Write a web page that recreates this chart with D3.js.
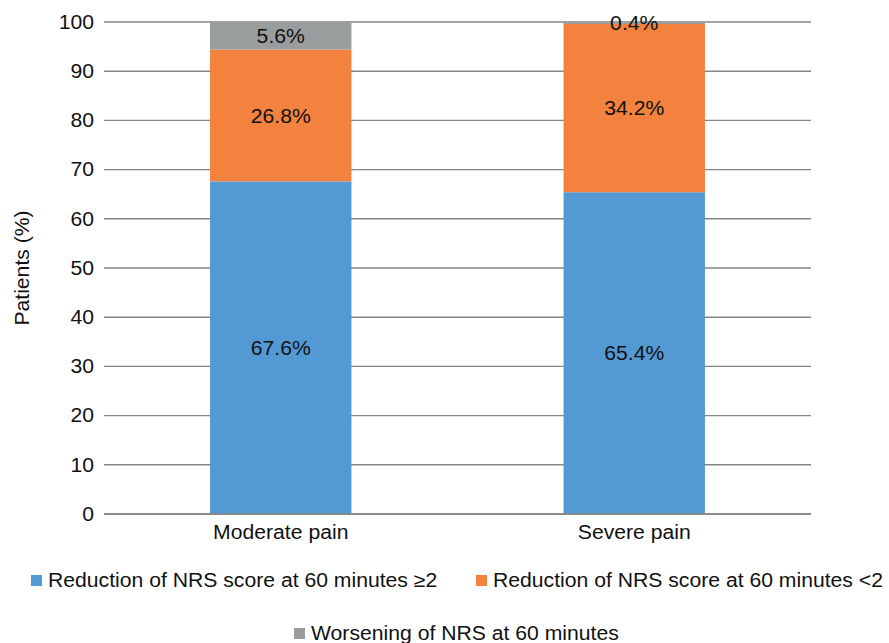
<!DOCTYPE html>
<html><head><meta charset="utf-8">
<script src="https://cdn.jsdelivr.net/npm/d3@7"></script>
<style>body{margin:0;background:#fff;} svg{display:block;font-family:"Liberation Sans",Arial,sans-serif;}</style>
</head><body>
<svg id="c" width="889" height="643"></svg>
<script>
const categories = ["Moderate pain", "Severe pain"];
const seriesNames = ["Reduction of NRS score at 60 minutes ≥2", "Reduction of NRS score at 60 minutes <2", "Worsening of NRS at 60 minutes"];
const reductionGE2 = [67.6, 65.4];
const reductionLT2 = [26.8, 34.2];
const worsening = [5.6, 0.4];
const yTicks = [0,10,20,30,40,50,60,70,80,90,100];
const colors = ["#5399d4", "#f2823e", "#9a9d9d"];

const svg = d3.select("#c");
const m = {left:104, right:811, top:22, bottom:514};
const x = d3.scaleBand().domain(categories).range([m.left, m.right]).paddingInner(0.6).paddingOuter(0.3);
const y = d3.scaleLinear().domain([0,100]).range([m.bottom, m.top]);
const FS = 19.6, STRETCH = 1.08;

const rows = categories.map((c,i)=>({cat:c, s0:reductionGE2[i], s1:reductionLT2[i], s2:worsening[i]}));
const stack = d3.stack().keys(["s0","s1","s2"])(rows);

// gridlines
svg.append("g").selectAll("line").data(yTicks).join("line")
  .attr("x1", m.left).attr("x2", m.right)
  .attr("y1", d=>y(d)).attr("y2", d=>y(d))
  .attr("stroke", "#858585").attr("stroke-width", 1.4);

// y tick labels
const yAxis = d3.axisLeft(y).tickValues(yTicks).tickSize(0).tickPadding(10);
const ga = svg.append("g").attr("transform", `translate(${m.left},0)`).call(yAxis);
ga.select(".domain").remove();
ga.selectAll("text").attr("font-size", FS).attr("font-family", "Liberation Sans, Arial, sans-serif").attr("fill", "#111");

// bars
stack.forEach((layer, k)=>{
  const g = svg.append("g");
  g.selectAll("rect").data(layer).join("rect")
    .attr("x", d=>x(d.data.cat)).attr("width", x.bandwidth())
    .attr("y", d=>y(d[1])).attr("height", d=>y(d[0])-y(d[1]))
    .attr("fill", colors[k]);
});
// labels
stack.forEach((layer,k)=>{
  svg.append("g").selectAll("text").data(layer).join("text")
    .attr("x", d=>x(d.data.cat)+x.bandwidth()/2)
    .attr("y", d=>(y(d[0])+y(d[1]))/2)
    .attr("dy", "0.36em").attr("text-anchor", "middle")
    .attr("font-size", FS).attr("fill", "#111")
    .text(d=>(d[1]-d[0]).toFixed(1)+"%");
});

// baseline
svg.append("line").attr("x1", m.left).attr("x2", m.right).attr("y1", y(0)).attr("y2", y(0))
  .attr("stroke", "#858585").attr("stroke-width", 1.4);

// x labels
const xAxis = d3.axisBottom(x).tickSize(0).tickPadding(11);
const gx = svg.append("g").attr("transform", `translate(0,${m.bottom})`).call(xAxis);
gx.select(".domain").remove();
gx.selectAll("text").attr("font-size", FS).attr("font-family", "Liberation Sans, Arial, sans-serif").attr("fill", "#111");

// y title
svg.append("text").attr("transform", `translate(29,${(m.top+m.bottom)/2}) rotate(-90)`)
  .attr("text-anchor", "middle").attr("font-size", FS).attr("fill", "#111").text("Patients (%)");

// legend
const legendPos = [{x:31, y:580}, {x:476, y:580}, {x:294, y:633}];
seriesNames.forEach((n,i)=>{
  const p = legendPos[i];
  svg.append("rect").attr("x", p.x).attr("y", p.y-5).attr("width", 11).attr("height", 11).attr("fill", colors[i]);
  svg.append("text").attr("x", p.x+17).attr("y", p.y).attr("dy","0.36em").attr("font-size", FS).attr("fill","#111").text(n);
});

// horizontal stretch of text to match reference glyph widths
svg.selectAll("text").each(function(){
  const len = this.getComputedTextLength();
  d3.select(this).attr("textLength", len*STRETCH).attr("lengthAdjust", "spacingAndGlyphs");
});
</script>
</body></html>
